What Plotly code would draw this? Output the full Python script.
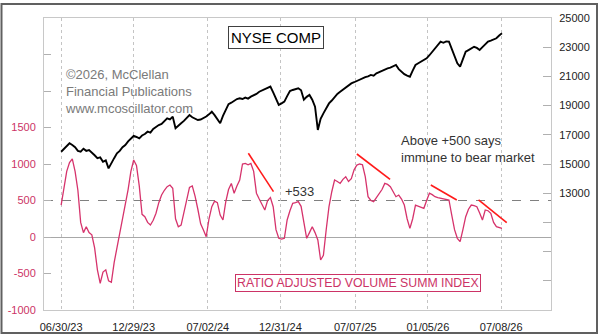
import numpy as np
import pandas as pd
import plotly.graph_objects as go

# ---------------- data (weekly, starting 2023-06-30) ----------------
start_date = "2023-06-30"

nyse_comp = [
    15840, 16050, 16250, 16420, 16300, 16150, 15900, 15850, 16050, 15900,
    15960, 15800, 15600, 15400, 15450, 15150, 15250, 14700, 15100, 15400,
    15730, 15900, 16150, 16300, 16550, 16750, 16920, 16850, 16760, 16950,
    17050, 17213, 17150, 17400, 17550, 17670, 17750, 17950, 18130, 18050,
    18240, 17445, 17650, 17790, 17950, 18150, 18356, 18200, 18100, 18014,
    18050, 18130, 18250, 18400, 18580, 18350, 18100, 17790, 18300, 18700,
    19100, 19200, 19350, 19450, 19500, 19450, 19550, 19480, 19610, 19700,
    19800, 19950, 20050, 20150, 20250, 20300, 19900, 19500, 19050, 19150,
    19270, 19650, 20000, 20070, 20150, 20185, 20050, 19400, 19600, 19730,
    19400, 18925, 17330, 18100, 18470, 18850, 19150, 19350, 19600, 19800,
    19950, 20100, 20250, 20400, 20520, 20600, 20700, 20800, 20870, 20950,
    21000, 21100, 21050, 21213, 21300, 21400, 21480, 21555, 21600, 21700,
    21780, 21500, 21300, 21150, 21050, 20980, 21400, 21780, 21900, 22000,
    22150, 22240, 22450, 22690, 22900, 23150, 23380, 23300, 23400, 23380,
    22900, 22400, 21900, 21665, 22200, 22690, 22800, 22900, 23030, 22950,
    22810, 23000, 23200, 23380, 23450, 23550, 23610, 23800, 23950,
]

rav_summ_index = [
    438, 700, 900, 1020, 1070, 900, 640, 200, 60, 141,
    60, 30, -150, -450, -634, -480, -450, -600, -620, -350,
    -150, 51, 250, 430, 650, 900, 1055, 980, 700, 310,
    278, 200, 164, 230, 325, 470, 575, 640, 690, 712,
    667, 250, 141, 164, 350, 507, 680, 700, 560, 380,
    180, 96, 4, 250, 415, 490, 470, 300, 233, 480,
    650, 734, 600, 700, 781, 1000, 1008, 990, 1008, 900,
    600, 520, 450, 370, 500, 540, 415, 100, -18, -30,
    -18, 233, 360, 462, 470, 484, 420, 200, -18, 60,
    141, 60, -40, -315, -250, 100, 415, 620, 781, 760,
    734, 790, 826, 760, 800, 920, 986, 1000, 990, 826,
    552, 500, 484, 540, 599, 650, 734, 720, 689, 620,
    552, 575, 520, 438, 250, 119, 250, 438, 420, 400,
    393, 500, 599, 580, 552, 540, 530, 530, 515, 507,
    300, 100, -18, -64, 100, 278, 380, 438, 430, 415,
    330, 233, 370, 360, 325, 200, 141, 130, 119,
]

# red trend lines: (week index start, week index end) and (value start, value end)
trend_weeks = [(67.1, 76.1), (106.0, 117.9), (132.5, 141.8), (149.6, 159.7)]
trend_vals = [(1147, 621), (1137, 790), (712, 507), (507, 196)]

x_tick_dates = ["2023-06-30", "2023-12-29", "2024-07-02", "2024-12-31",
                "2025-07-07", "2026-01-05", "2026-07-08"]
x_tick_labels = ["06/30/23", "12/29/23", "07/02/24", "12/31/24",
                 "07/07/25", "01/05/26", "07/08/26"]

left_ticks = [-1000, -500, 0, 500, 1000, 1500, 2000, 2500, 3000]
left_labels = ["-1000", "-500", "0", "500", "1000", "1500", "", "", ""]
right_ticks = [7000, 9000, 11000, 13000, 15000, 17000, 19000, 21000, 23000, 25000]
right_labels = ["", "", "", "13000", "15000", "17000", "19000", "21000", "23000", "25000"]

# ---------------- build ----------------
t0 = pd.Timestamp(start_date)
def wk(i):
    return t0 + pd.to_timedelta(np.asarray(i, dtype=float) * 7, unit="D")

dates = wk(np.arange(len(nyse_comp)))
dates_osc = wk(np.arange(len(rav_summ_index)))

PINK = "#d6336c"
PINK_TXT = "#cc3366"
FONT = "Liberation Sans, Arial, sans-serif"

fig = go.Figure()

fig.add_trace(go.Scatter(x=dates_osc, y=rav_summ_index, mode="lines",
                         line=dict(color=PINK, width=1.3), yaxis="y",
                         hoverinfo="skip", showlegend=False))
fig.add_trace(go.Scatter(x=dates, y=nyse_comp, mode="lines",
                         line=dict(color="black", width=1.9), yaxis="y2",
                         hoverinfo="skip", showlegend=False))
for (w0, w1), (v0, v1) in zip(trend_weeks, trend_vals):
    fig.add_trace(go.Scatter(x=wk([w0, w1]), y=[v0, v1], mode="lines",
                             line=dict(color="#ff1a1a", width=1.6), yaxis="y",
                             hoverinfo="skip", showlegend=False))

L, R, T, B = 44, 49, 18, 26
W, H = 600, 336
pw, ph = W - L - R, H - T - B
def px(x):
    return (x - L) / pw
def py(y):
    return (H - B - y) / ph

fig.update_layout(
    width=W, height=H,
    margin=dict(l=L, r=R, t=T, b=B, pad=0, autoexpand=False),
    paper_bgcolor="white", plot_bgcolor="white",
    font=dict(family=FONT, size=11, color="#222"),
    xaxis=dict(type="date", range=["2023-05-18", "2026-11-10"],
               tickvals=x_tick_dates, ticktext=x_tick_labels, automargin=False,
               showgrid=True, gridcolor="#c4c4c4", griddash="dot", gridwidth=1,
               showline=True, linecolor="#c8c8c8", linewidth=1, mirror=True,
               ticks="", zeroline=False, ticklabelstandoff=7,
               tickfont=dict(size=11, color="#222")),
    yaxis=dict(range=[-1000, 3000], tickvals=left_ticks, ticktext=left_labels,
               automargin=False,
               showgrid=False, zeroline=True, zerolinecolor="#a8a8a8", zerolinewidth=1,
               showline=True, linecolor="#c8c8c8", linewidth=1,
               ticks="inside", ticklen=7, tickcolor="#b0b0b0", ticklabelstandoff=5,
               tickfont=dict(size=11, color=PINK_TXT)),
    yaxis2=dict(range=[5000, 25000], overlaying="y", side="right",
                tickvals=right_ticks, ticktext=right_labels, automargin=False,
                showgrid=False, zeroline=False,
                showline=True, linecolor="#c8c8c8", linewidth=1,
                ticks="inside", ticklen=8, tickcolor="#b0b0b0", ticklabelstandoff=5,
                tickfont=dict(size=11, color="#222")),
)

shapes = [
    dict(type="line", xref="paper", yref="y", x0=0, x1=1, y0=500, y1=500,
         line=dict(color="#808080", width=1, dash="dash"), layer="below"),
    dict(type="rect", xref="paper", yref="paper",
         x0=px(1.5), x1=px(597), y0=py(4), y1=py(333),
         line=dict(color="#606060", width=2), layer="above"),
]
fig.update_layout(shapes=shapes)

ann = []
ann.append(dict(text="NYSE COMP", x=px(276), y=py(37), xref="paper", yref="paper",
                showarrow=False, font=dict(size=15, color="black", family=FONT),
                bordercolor="#404040", borderwidth=1, borderpad=2, bgcolor="white",
                xanchor="center", yanchor="middle"))
ann.append(dict(text="©2026, McClellan<br>Financial Publications<br>www.mcoscillator.com",
                x=px(63), y=py(91.5), xref="paper", yref="paper", align="left",
                showarrow=False, font=dict(size=13, color="#7a7a7a", family=FONT),
                xanchor="left", yanchor="middle"))
ann.append(dict(text="Above +500 says<br>immune to bear market",
                x=px(399), y=py(148.5), xref="paper", yref="paper", align="left",
                showarrow=False, font=dict(size=13, color="#333", family=FONT),
                xanchor="left", yanchor="middle"))
ann.append(dict(text="+533", x=px(283), y=py(192), xref="paper", yref="paper",
                showarrow=False, font=dict(size=13, color="#333", family=FONT),
                xanchor="left", yanchor="middle"))
ann.append(dict(text="RATIO ADJUSTED VOLUME SUMM INDEX", x=px(358.3), y=py(283),
                xref="paper", yref="paper", showarrow=False,
                font=dict(size=12.3, color=PINK_TXT, family=FONT),
                bordercolor=PINK_TXT, borderwidth=1, borderpad=1, bgcolor="white",
                xanchor="center", yanchor="middle"))
fig.update_layout(annotations=ann)

fig.write_html("out.html")
